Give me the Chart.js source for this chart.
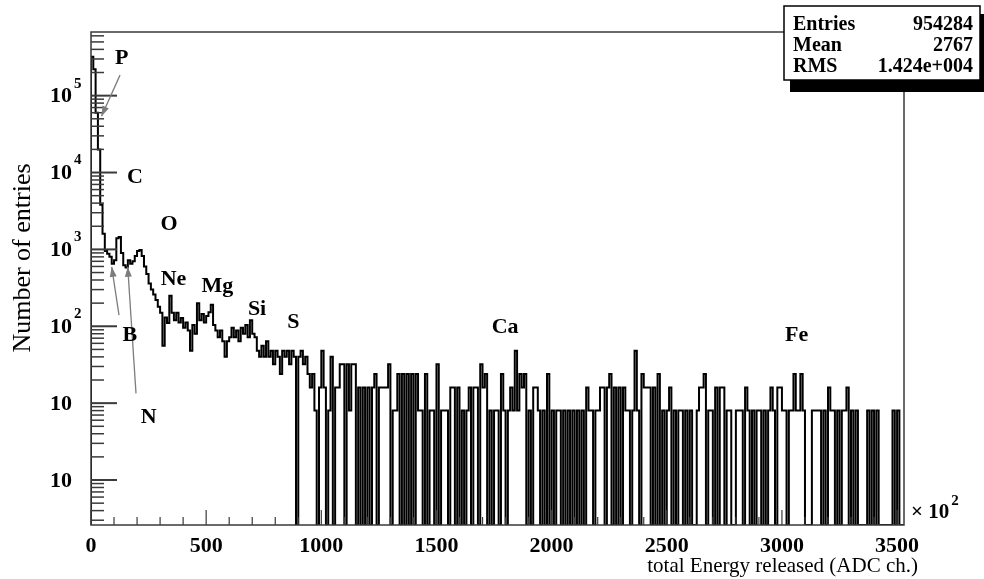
<!DOCTYPE html>
<html>
<head>
<meta charset="utf-8">
<script src="https://cdn.jsdelivr.net/npm/chart.js@4.4.1/dist/chart.umd.min.js"></script>
<style>
  html, body { margin: 0; padding: 0; background: #fff; }
  #wrap { width: 984px; height: 579px; }
</style>
</head>
<body>
<div id="wrap"><canvas id="histo" width="984" height="579"></canvas></div>
<script>
document.addEventListener('DOMContentLoaded', () => {

// histogram binning (x in units of 10^2 ADC ch.)
const binWidth = 10;
const xMax = 3530;
const yMin = 0.26;
const yMax = 673000;

// bin contents
const peakCounts = [320000, 220000, 60000, 20000, 3800, 1600, 950, 880, 800, 650,
  720, 1400, 1450, 900, 620, 580, 720, 650, 700, 820,
  950, 980, 820, 600, 480, 360, 300, 260, 220, 180, 150];
const bodyCounts = [56, 130, 110, 250, 150, 120, 150, 112, 128, 96,
  112, 88, 48, 104, 80, 200, 120, 144, 112, 136,
  152, 190, 104, 88, 72, 88, 64, 40, 64, 72,
  96, 72, 88, 64, 96, 80, 104, 72, 120, 80,
  72, 48, 40, 56, 40, 64, 40, 48, 32, 48,
  40, 24, 48, 40, 48, 32, 48, 40, 0, 40,
  48, 32, 40, 24, 16, 24, 8, 0];
const tailCountsA = [16, 48, 16, 0, 8, 40, 0, 16, 16, 32,
  32, 0, 32, 8, 32, 32, 0, 16, 0, 16,
  0, 16, 0, 16, 24, 0, 16, 16, 16, 16,
  32, 0, 8, 8, 24, 0, 24, 0, 24, 0,
  24, 0, 24, 8, 8, 0, 24, 0, 8, 8,
  0, 32, 0, 8, 8, 8, 0, 16, 16, 0,
  16, 0, 8, 0, 8, 16, 0, 16, 16, 0,
  32, 16, 24, 0, 8, 0, 8, 8, 0, 24,
  8, 0];
const tailCountsB = [8, 16, 8, 48, 8, 24, 16, 24, 0, 8,
  0, 16, 16, 8, 0, 8, 0, 24, 0, 8,
  0, 8, 8, 0, 8, 0, 8, 0, 8, 0,
  8, 0, 8, 0, 16, 8, 8, 0, 8, 8,
  16, 16, 0, 16, 24, 0, 16, 0, 16, 0,
  16, 8, 8, 0, 8, 48, 8, 0, 24, 16,
  16, 16, 0, 16, 0, 24, 0, 8, 0, 8,
  16, 0, 8, 0, 8, 8, 0, 8, 0, 8,
  0, 0, 8, 16, 16];
const tailCountsC = [24, 0, 8, 8, 0, 16, 0, 16, 16, 0,
  8, 8, 0, 0, 8, 8, 8, 0, 16, 8,
  0, 8, 0, 8, 8, 0, 8, 0, 8, 16,
  8, 0, 16, 16, 8, 8, 0, 8, 8, 24,
  8, 8, 24, 8, 0, 0, 0, 8, 8, 8,
  8, 0, 8, 0, 16, 8, 8, 0, 8, 0,
  8, 8, 16, 0, 8, 0, 8, 0, 0, 0,
  0, 8, 0, 8, 0, 8, 0, 0, 0, 0,
  0, 0, 8, 0, 8, 0, 0];

// axis ticks
const xTickValues = [0, 500, 1000, 1500, 2000, 2500, 3000, 3500];
const yTickValues = [1, 10, 100, 1000, 10000, 100000];
const yTickBase = ['10', '10', '10', '10', '10', '10'];
const yTickExp = ['', '', '2', '3', '4', '5'];

// element labels and arrows (data coordinates)
const elementNames = ['P', 'C', 'O', 'Ne', 'Mg', 'Si', 'S', 'Ca', 'Fe', 'B', 'N'];
const elementX = [133, 191, 339, 358, 549, 721, 879, 1798, 3064, 169, 250];
const elementY = [310000, 8600, 2100, 405, 333, 165, 112, 96, 77, 76, 6.5];
const arrowFromX = [126, 121.6, 195.4];
const arrowFromY = [185000, 140, 13.4];
const arrowToX = [45.6, 89.9, 159.4];
const arrowToY = [54100, 594, 594];

const statsLabels = ['Entries', 'Mean', 'RMS'];
const statsValues = ['954284', '2767', '1.424e+004'];

// empty bins sit on the floor of the log axis, as ROOT draws them
const counts = [...peakCounts, ...bodyCounts, ...tailCountsA, ...tailCountsB, ...tailCountsC];
const histPoints = [{ x: 0, y: yMin }];
counts.forEach((c, i) => histPoints.push({ x: i * binWidth, y: c > 0 ? c : yMin }));
histPoints.push({ x: counts.length * binWidth, y: yMin });

const serif = "'Liberation Serif', 'Times New Roman', serif";

function drawArrow(ctx, x1, y1, x2, y2) {
    ctx.beginPath();
    ctx.moveTo(x1, y1);
    ctx.lineTo(x2, y2);
    ctx.stroke();
    const ang = Math.atan2(y2 - y1, x2 - x1);
    const L = 10, W = 3.5;
    ctx.beginPath();
    ctx.moveTo(x2, y2);
    ctx.lineTo(x2 - L * Math.cos(ang) + W * Math.sin(ang), y2 - L * Math.sin(ang) - W * Math.cos(ang));
    ctx.lineTo(x2 - L * Math.cos(ang) - W * Math.sin(ang), y2 - L * Math.sin(ang) + W * Math.cos(ang));
    ctx.closePath();
    ctx.fill();
}

const rootDecor = {
    id: 'rootDecor',
    afterDatasetsDraw(chart) {
        const { ctx, chartArea: a, scales: { x, y } } = chart;
        ctx.save();

        // frame
        ctx.strokeStyle = '#3a3a3a';
        ctx.lineWidth = 1.5;
        ctx.strokeRect(a.left, a.top, a.right - a.left, a.bottom - a.top);

        // x ticks (inside)
        ctx.lineWidth = 1.2;
        for (let v = 0; v <= 3500; v += 100) {
            const px = x.getPixelForValue(v);
            const len = v % 500 === 0 ? 15 : 8;
            ctx.beginPath();
            ctx.moveTo(px, a.bottom);
            ctx.lineTo(px, a.bottom - len);
            ctx.stroke();
        }

        // y ticks (inside), decades + minors
        for (let e = -1; e <= 5; e++) {
            for (let m = 1; m <= 9; m++) {
                const v = m * Math.pow(10, e);
                if (v < y.min || v > y.max) continue;
                const py = y.getPixelForValue(v);
                const len = m === 1 ? 26 : 13;
                ctx.lineWidth = m === 1 ? 2 : 1.5;
                ctx.beginPath();
                ctx.moveTo(a.left, py);
                ctx.lineTo(a.left + len, py);
                ctx.stroke();
            }
        }

        // y tick labels
        ctx.fillStyle = '#000';
        ctx.textBaseline = 'middle';
        yTickValues.forEach((v, i) => {
            const py = y.getPixelForValue(v);
            ctx.font = 'bold 22px ' + serif;
            ctx.textAlign = 'right';
            ctx.fillText(yTickBase[i], a.left - 19, py + 1);
            if (yTickExp[i]) {
                ctx.font = 'bold 15px ' + serif;
                ctx.textAlign = 'left';
                ctx.fillText(yTickExp[i], a.left - 17, py - 12);
            }
        });

        // arrows
        ctx.strokeStyle = '#7d7d7d';
        ctx.fillStyle = '#7d7d7d';
        ctx.lineWidth = 1.3;
        arrowFromX.forEach((u, i) => {
            drawArrow(ctx, x.getPixelForValue(u), y.getPixelForValue(arrowFromY[i]),
                x.getPixelForValue(arrowToX[i]), y.getPixelForValue(arrowToY[i]));
        });

        // element labels
        ctx.fillStyle = '#000';
        ctx.font = 'bold 22px ' + serif;
        ctx.textAlign = 'center';
        ctx.textBaseline = 'middle';
        elementNames.forEach((n, i) => {
            ctx.fillText(n, x.getPixelForValue(elementX[i]), y.getPixelForValue(elementY[i]));
        });

        // axis titles
        ctx.font = '21px ' + serif;
        ctx.textAlign = 'right';
        ctx.textBaseline = 'alphabetic';
        ctx.fillText('total Energy released (ADC ch.)', 918, 572);

        ctx.save();
        ctx.translate(30, 258);
        ctx.rotate(-Math.PI / 2);
        ctx.textAlign = 'center';
        ctx.font = '26px ' + serif;
        ctx.fillText('Number of entries', 0, 0);
        ctx.restore();

        // x10^2 multiplier
        ctx.font = 'bold 21px ' + serif;
        ctx.textAlign = 'left';
        ctx.fillText('\u00d7 10', a.right + 7, 518);
        const mw = ctx.measureText('\u00d7 10').width;
        ctx.font = 'bold 15px ' + serif;
        ctx.fillText('2', a.right + 9 + mw, 505);

        // stats box with shadow
        const bx = 784, by = 6, bw = 196, bh = 74;
        ctx.fillStyle = '#000';
        ctx.fillRect(bx + 6, by + 8, bw, bh + 4);
        ctx.fillStyle = '#fff';
        ctx.fillRect(bx, by, bw, bh);
        ctx.strokeStyle = '#000';
        ctx.lineWidth = 1.5;
        ctx.strokeRect(bx, by, bw, bh);
        ctx.fillStyle = '#000';
        ctx.font = 'bold 20px ' + serif;
        statsLabels.forEach((s, i) => {
            const base = by + 24 + i * 21;
            ctx.textAlign = 'left';
            ctx.fillText(s, bx + 9, base);
            ctx.textAlign = 'right';
            ctx.fillText(statsValues[i], bx + bw - 7, base);
        });

        ctx.restore();
    }
};

new Chart(document.getElementById('histo').getContext('2d'), {
    type: 'line',
    data: {
        datasets: [{
            data: histPoints,
            stepped: true,
            borderColor: '#000',
            borderWidth: 2,
            pointRadius: 0,
            fill: false,
            tension: 0
        }]
    },
    options: {
        responsive: false,
        animation: false,
        events: [],
        layout: { padding: { left: 0, right: 80, top: 32, bottom: 0 } },
        plugins: {
            legend: { display: false },
            tooltip: { enabled: false }
        },
        scales: {
            x: {
                type: 'linear',
                min: 0,
                max: xMax,
                grid: { display: false, drawTicks: false },
                border: { display: false },
                afterBuildTicks: (s) => { s.ticks = xTickValues.map(v => ({ value: v })); },
                afterFit: (s) => { s.height = 54; },
                ticks: {
                    color: '#000',
                    padding: 8,
                    autoSkip: false,
                    maxRotation: 0,
                    callback: (v) => String(v),
                    font: { family: serif, size: 22, weight: 'bold' }
                }
            },
            y: {
                type: 'logarithmic',
                min: yMin,
                max: yMax,
                grid: { display: false, drawTicks: false },
                border: { display: false },
                ticks: { display: false },
                afterFit: (s) => { s.width = 91; }
            }
        }
    },
    plugins: [rootDecor]
});

});
</script>
</body>
</html>
